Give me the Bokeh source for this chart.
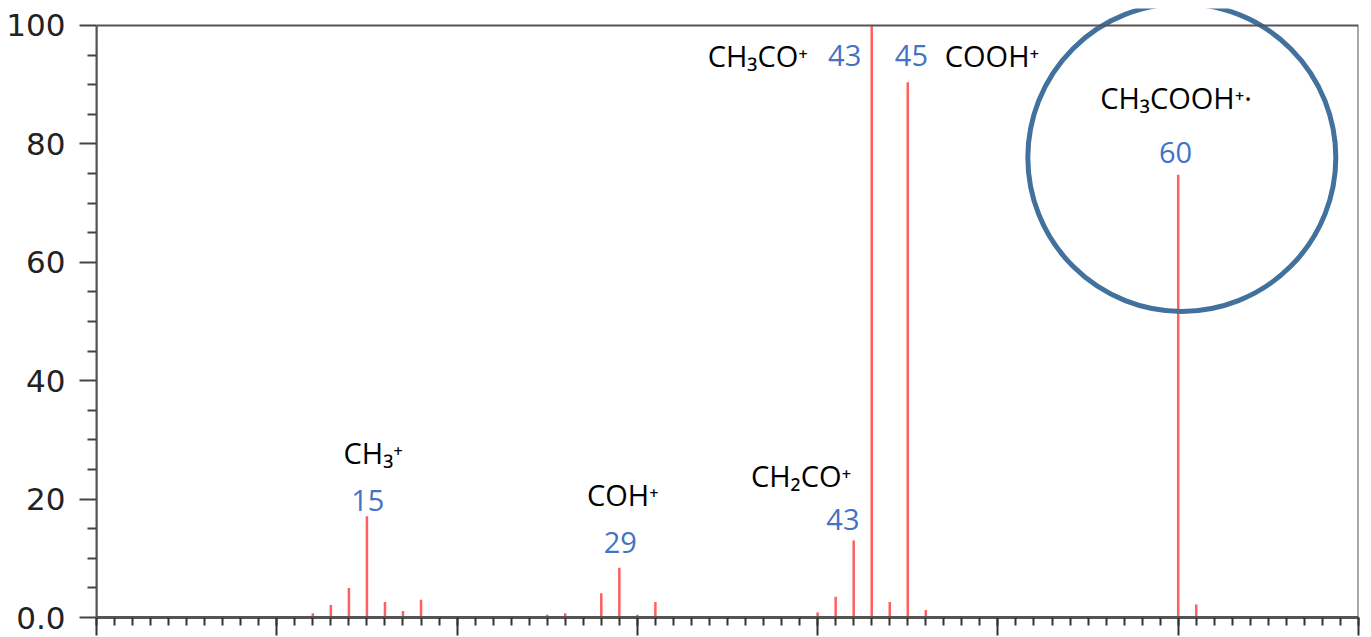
from bokeh.plotting import figure
from bokeh.models import ColumnDataSource, FixedTicker, BoxAnnotation, Range1d
from bokeh.core.properties import value
from bokeh.embed import file_html
from bokeh.resources import INLINE

# ---- data: acetic acid mass spectrum ----
mz = [12, 13, 14, 15, 16, 17, 18, 25, 26, 28, 29, 30, 31, 40, 41, 42, 43, 44, 45, 46, 60, 61]
intensity = [0.7, 2.1, 5.0, 17.1, 2.6, 1.1, 3.0, 0.45, 0.7, 4.1, 8.4, 0.45, 2.6,
             0.85, 3.5, 13.0, 100.0, 2.6, 90.4, 1.25, 74.8, 2.2]

y_ticks = [0, 20, 40, 60, 80, 100]
y_minor = [5, 10, 15, 25, 30, 35, 45, 50, 55, 65, 70, 75, 85, 90, 95]
x_ticks = [0, 10, 20, 30, 40, 50, 60, 70]

# annotation texts (black formulas, blue m/z numbers)
formula_text = ["CH₃⁺", "COH⁺", "CH₂CO⁺", "CH₃CO⁺", "COOH⁺", "CH₃COOH⁺·"]
formula_x = [13.7, 27.2, 36.3, 33.9, 47.05, 55.67]
formula_y = [27.9, 20.8, 24.0, 94.9, 94.9, 87.8]

mz_text = ["15", "29", "43", "43", "45", "60"]
mz_x = [15.05, 29.05, 41.4, 41.5, 45.2, 59.85]
mz_y = [19.8, 12.7, 16.6, 94.9, 94.9, 78.5]

p = figure(frame_width=1262, frame_height=609,
           x_range=Range1d(0, 70), y_range=Range1d(0, 102.87),
           output_backend="svg", toolbar_location=None,
           min_border_left=96, min_border_right=4, min_border_top=8, min_border_bottom=19)
p.outline_line_color = None
p.xgrid.visible = False
p.ygrid.visible = False
p.background_fill_color = "white"
p.border_fill_color = "white"

# frame border (top & right)
p.add_layout(BoxAnnotation(left=0, right=70, bottom=0, top=100,
                           fill_alpha=0, line_color="#555555", line_alpha=1.0,
                           line_width=2))

# peaks
src = ColumnDataSource(dict(x=mz, y=intensity, y0=[0] * len(mz)))
p.segment(x0="x", y0="y0", x1="x", y1="y", source=src,
          line_color="#ff2a2a", line_width=2.5, line_alpha=0.75)

# y axis
ya = p.yaxis[0]
ya.ticker = FixedTicker(ticks=y_ticks, minor_ticks=y_minor)
ya.bounds = (0, 100)
ya.major_label_overrides = {0: "0.0"}
ya.major_label_text_font = "DejaVu Sans"
ya.major_label_text_font_size = "31px"
ya.major_label_text_color = "#222222"
ya.major_label_standoff = 14
ya.major_tick_out = 17
ya.major_tick_in = 0
ya.minor_tick_out = 9
ya.minor_tick_in = 0
ya.axis_line_color = "#555555"
ya.axis_line_width = 2
ya.major_tick_line_color = "#444444"
ya.major_tick_line_width = 2
ya.minor_tick_line_color = "#444444"
ya.minor_tick_line_width = 2

# x axis (labels fall outside the reference picture)
xa = p.xaxis[0]
xa.ticker = FixedTicker(ticks=x_ticks, minor_ticks=list(range(0, 71)))
xa.major_label_overrides = {t: "" for t in x_ticks}
xa.major_label_text_font_size = "10px"
xa.major_label_standoff = 0
xa.major_tick_out = 18
xa.major_tick_in = 0
xa.minor_tick_out = 8
xa.minor_tick_in = 0
xa.axis_line_color = "#555555"
xa.axis_line_width = 3
xa.major_tick_line_color = "#333333"
xa.major_tick_line_width = 2
xa.minor_tick_line_color = "#333333"
xa.minor_tick_line_width = 2

# labels
p.text(x=formula_x, y=formula_y, text=formula_text, text_font=value("Open Sans"),
       text_font_size="29px", text_color="black", text_align="left",
       text_baseline="alphabetic")
p.text(x=mz_x, y=mz_y, text=mz_text, text_font=value("Open Sans"),
       text_font_size="29px", text_color="#4472C4", text_align="center",
       text_baseline="alphabetic")

# highlight circle around molecular ion
p.scatter(x=[60.2], y=[77.7], marker="circle", size=308, fill_color=None,
          line_color="#41719C", line_width=5)

open("out.html", "w").write(file_html(p, INLINE))
